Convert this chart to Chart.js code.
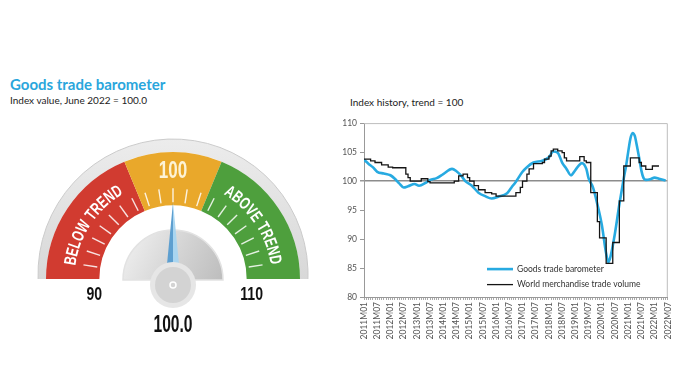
<!DOCTYPE html>
<html><head><meta charset="utf-8">
<script src="https://cdn.jsdelivr.net/npm/chart.js@4.4.1/dist/chart.umd.min.js"></script>
<style>
body{margin:0;background:#fff;width:700px;height:392px;overflow:hidden;position:relative;font-family:Lato,'Open Sans',sans-serif;}
#t1{position:absolute;left:10px;top:75px;font:bold 15px Lato,'Open Sans',sans-serif;color:#2aa6dc;white-space:nowrap;}
#t2{position:absolute;left:10px;top:94px;font:10px Lato,'Open Sans',sans-serif;color:#222;white-space:nowrap;}
#t3{position:absolute;left:350px;top:96px;font:10px Lato,'Open Sans',sans-serif;color:#222;white-space:nowrap;}
#g{position:absolute;left:0;top:110px;}
#c{position:absolute;left:330px;top:115px;}
</style></head><body>
<div id="t1">Goods trade barometer</div>
<div id="t2">Index value, June 2022 = 100.0</div>
<div id="t3">Index history, trend = 100</div>
<canvas id="g" width="340" height="240"></canvas>
<canvas id="c" width="350" height="240"></canvas>
<script>
// ---------- data ----------
const gaugeValue = 100.0;
const gaugeMin = 90, gaugeMax = 110;
const zoneLabels = ['BELOW TREND', '', 'ABOVE TREND'];
const zoneBounds = [90, 97.5, 102.5, 110];
const zoneColors = ['#d13b30', '#e9a82b', '#4e9f3d'];

const tickLabels = ['2011M01','2011M07','2012M01','2012M07','2013M01','2013M07','2014M01','2014M07',
  '2015M01','2015M07','2016M01','2016M07','2017M01','2017M07','2018M01','2018M07','2019M01','2019M07',
  '2020M01','2020M07','2021M01','2021M07','2022M01','2022M07'];

const baroMonths = ['2011M01','2011M03','2011M05','2011M07','2011M10','2012M01','2012M03','2012M05','2012M07','2012M09',
  '2012M12','2013M02','2013M05','2013M07','2013M10','2014M01','2014M05','2014M07','2014M09','2014M11',
  '2015M02','2015M05','2015M08','2015M11','2016M02','2016M06','2016M08','2016M10','2017M01','2017M03',
  '2017M06','2017M10','2018M01','2018M03','2018M05','2018M07','2018M09','2018M11','2019M01','2019M04',
  '2019M06','2019M07','2019M09','2019M11','2020M01','2020M03','2020M04','2020M05','2020M07','2020M09',
  '2020M11','2020M12','2021M01','2021M02','2021M03','2021M04','2021M05','2021M06','2021M07','2021M08',
  '2021M09','2021M11','2022M01','2022M03','2022M06'];
const baroValues = [103.7,103.0,102.4,101.6,101.3,101.0,100.4,99.6,98.9,99.1,
  99.5,99.2,99.7,100.2,100.5,101.2,102.1,101.7,101.0,100.0,
  99.2,98.0,97.4,97.0,97.3,97.9,98.9,99.9,101.6,102.4,
  103.2,103.5,104.1,105.1,104.9,103.2,102.1,101.0,101.9,103.1,
  102.1,100.5,98.9,96.0,92.5,87.5,86.0,87.0,91.0,96.0,
  100.5,102.5,105.0,107.3,108.3,107.8,106.0,104.0,101.8,100.5,
  100.2,100.3,100.6,100.4,100.1];

const tradeMonths = ['2011M01','2011M04','2011M06','2011M09','2011M12','2012M02','2012M08','2012M09','2012M10','2013M03',
  '2013M06','2013M07','2014M06','2014M08','2014M10','2014M12','2015M01','2015M03','2015M05','2015M08',
  '2015M11','2016M01','2016M10','2016M12','2017M01','2017M03','2017M04','2017M06','2017M10','2017M11',
  '2018M01','2018M02','2018M03','2018M05','2018M07','2018M08','2018M09','2019M03','2019M05','2019M06',
  '2019M08','2019M11','2019M12','2020M03','2020M06','2020M09','2020M11','2021M02','2021M06','2021M07',
  '2021M09','2021M12','2022M03'];
const tradeValues = [103.8,103.5,103.2,102.8,102.4,102.3,101.2,100.6,100.0,100.4,
  99.9,99.7,100.0,100.9,101.2,100.6,100.0,99.2,98.5,98.0,
  97.8,97.4,98.0,98.9,100.0,101.2,102.1,103.0,103.2,103.8,
  104.3,105.2,105.5,105.2,104.9,104.0,103.5,104.2,103.5,103.2,
  98.0,93.0,90.2,85.8,89.4,96.6,102.6,104.0,103.2,102.6,
  102.0,102.6,102.6];

function monthIndex(s){ return (parseInt(s.slice(0,4),10)-2011)*12 + parseInt(s.slice(5),10) - 1; }

// ---------- gauge ----------
const BOLDF = "'Liberation Sans',Arial,sans-serif";
function valAngle(v){ return Math.PI + (v - gaugeMin) / (gaugeMax - gaugeMin) * Math.PI; }
function narrowText(ctx, txt, x, y, sx){
  ctx.save(); ctx.translate(x, y); ctx.scale(sx, 1); ctx.fillText(txt, 0, 0); ctx.restore();
}

const gaugePlugin = {
  id: 'gaugeDeco',
  beforeDatasetsDraw(chart){
    const a = chart.getDatasetMeta(0).data[0];
    const ctx = chart.ctx, cx = a.x, cy = a.y, R = a.outerRadius;
    ctx.save();
    const oc = cy - 5, oR = R + 8;
    const grd = ctx.createLinearGradient(cx, oc - oR, cx, cy);
    grd.addColorStop(0, '#ececec'); grd.addColorStop(1, '#d8d8d8');
    ctx.beginPath();
    const s = Math.asin(5 / oR);
    ctx.arc(cx, oc, oR, Math.PI - s, 2*Math.PI + s);
    ctx.lineTo(cx + R, cy);
    ctx.arc(cx, cy, R, 2*Math.PI, Math.PI, true);
    ctx.closePath();
    ctx.fillStyle = grd; ctx.fill();
    ctx.beginPath(); ctx.arc(cx, oc, oR, Math.PI - s, 2*Math.PI + s);
    ctx.strokeStyle = '#cbcbcb'; ctx.lineWidth = 1; ctx.stroke();
    ctx.restore();
  },
  afterDatasetsDraw(chart){
    const a = chart.getDatasetMeta(0).data[0];
    const ctx = chart.ctx, cx = a.x, cy = a.y, R = a.outerRadius, r = a.innerRadius;
    ctx.save();
    // tick marks
    ctx.strokeStyle = 'rgba(255,255,255,0.85)'; ctx.lineWidth = 1.4;
    for (let v = gaugeMin + 1; v < gaugeMax; v++) {
      const t = valAngle(v);
      ctx.beginPath();
      ctx.moveTo(cx + Math.cos(t)*(r+3), cy + Math.sin(t)*(r+3));
      ctx.lineTo(cx + Math.cos(t)*(r+17), cy + Math.sin(t)*(r+17));
      ctx.stroke();
    }
    // zone labels along arc
    ctx.fillStyle = '#ffffff';
    ctx.font = 'bold 17px ' + BOLDF;
    ctx.textAlign = 'center'; ctx.textBaseline = 'middle';
    const sx = 0.7, gap = 0.6;
    const tr = (r + R) / 2 + 4;
    zoneLabels.forEach((txt, i) => {
      if (!txt) return;
      const mid = valAngle((zoneBounds[i] + zoneBounds[i+1]) / 2);
      const total = ctx.measureText(txt).width * sx + (txt.length - 1) * gap;
      let ang = mid - total / 2 / tr;
      for (const ch of txt) {
        const w = ctx.measureText(ch).width * sx;
        const ca = ang + (w/2) / tr;
        ctx.save();
        ctx.translate(cx + Math.cos(ca)*tr, cy + Math.sin(ca)*tr);
        ctx.rotate(ca + Math.PI/2);
        ctx.scale(sx, 1);
        ctx.fillText(ch, 0, 1);
        ctx.restore();
        ang += (w + gap) / tr;
      }
    });
    // center zone number
    ctx.fillStyle = '#fdf3d6';
    ctx.font = 'bold 23px ' + BOLDF;
    narrowText(ctx, String((gaugeMin + gaugeMax) / 2), cx, cy - (R - 20), 0.74);
    // inner dial
    const dR = 50;
    const dg = ctx.createLinearGradient(cx - dR, cy - dR, cx + dR, cy);
    dg.addColorStop(0, '#f3f3f3'); dg.addColorStop(0.55, '#d4d4d4'); dg.addColorStop(1, '#bdbdbd');
    ctx.beginPath(); ctx.arc(cx, cy + 1, dR, Math.PI, 2*Math.PI); ctx.closePath();
    ctx.fillStyle = dg; ctx.fill();
    ctx.strokeStyle = '#e2e2e2'; ctx.lineWidth = 1.5; ctx.stroke();
    // needle
    const na = valAngle(gaugeValue), nl = r + 9, bw = 8;
    const hx = cx, hy = cy + 6;
    const tx = hx + Math.cos(na)*nl, ty = hy + Math.sin(na)*nl;
    const px = Math.cos(na + Math.PI/2), py = Math.sin(na + Math.PI/2);
    ctx.beginPath(); ctx.moveTo(tx, ty); ctx.lineTo(hx - px*bw, hy - py*bw); ctx.lineTo(hx, hy); ctx.closePath();
    ctx.fillStyle = '#5d9fd0'; ctx.fill();
    ctx.beginPath(); ctx.moveTo(tx, ty); ctx.lineTo(hx + px*bw, hy + py*bw); ctx.lineTo(hx, hy); ctx.closePath();
    ctx.fillStyle = '#a9d5f0'; ctx.fill();
    // hub
    ctx.beginPath(); ctx.arc(hx, hy, 23, 0, 2*Math.PI);
    ctx.fillStyle = '#e6e6e6'; ctx.fill();
    ctx.beginPath(); ctx.arc(hx, hy, 18, 0, 2*Math.PI);
    ctx.fillStyle = '#d3d3d3'; ctx.fill();
    ctx.beginPath(); ctx.arc(hx, hy, 3, 0, 2*Math.PI);
    ctx.strokeStyle = '#ffffff'; ctx.lineWidth = 1.5; ctx.stroke();
    // end labels
    ctx.fillStyle = '#111';
    ctx.font = 'bold 19px ' + BOLDF;
    narrowText(ctx, String(gaugeMin), cx + Math.cos(valAngle(gaugeMin))*(r+5), cy + 16, 0.74);
    narrowText(ctx, String(gaugeMax), cx + Math.cos(valAngle(gaugeMax))*(r+5), cy + 16, 0.74);
    ctx.font = 'bold 23px ' + BOLDF;
    narrowText(ctx, gaugeValue.toFixed(1), cx, cy + 47, 0.68);
    ctx.restore();
  }
};

new Chart(document.getElementById('g'), {
  type: 'doughnut',
  data: {
    labels: zoneLabels,
    datasets: [{
      data: zoneBounds.slice(1).map((b, i) => b - zoneBounds[i]),
      backgroundColor: zoneColors,
      borderWidth: 0
    }]
  },
  options: {
    responsive: false, animation: false, devicePixelRatio: 1,
    rotation: -90, circumference: 180, cutout: '58%',
    layout: { padding: { left: 46, right: 40, top: 42, bottom: 71 } },
    plugins: { legend: { display: false }, tooltip: { enabled: false } }
  },
  plugins: [gaugePlugin]
});

// ---------- line chart ----------
const frameLegend = {
  id: 'frameLegend',
  beforeDatasetsDraw(chart){
    const { ctx, chartArea: a } = chart;
    ctx.save();
    ctx.strokeStyle = '#bdbdbd'; ctx.lineWidth = 1;
    ctx.beginPath();
    ctx.moveTo(a.left, a.top + 0.5); ctx.lineTo(a.right - 0.5, a.top + 0.5); ctx.lineTo(a.right - 0.5, a.bottom);
    ctx.stroke();
    ctx.restore();
  },
  afterDatasetsDraw(chart){
    const { ctx, chartArea: a } = chart;
    ctx.save();
    ctx.font = '8.5px Lato, "Open Sans", sans-serif';
    ctx.textBaseline = 'middle'; ctx.textAlign = 'left'; ctx.fillStyle = '#333';
    chart.data.datasets.forEach((ds, i) => {
      const y = a.top + 146 + i * 15.5;
      const x = a.left + 123;
      ctx.strokeStyle = ds.borderColor; ctx.lineWidth = ds.borderWidth;
      ctx.beginPath(); ctx.moveTo(x, y); ctx.lineTo(x + 26, y); ctx.stroke();
      ctx.fillText(ds.label, x + 30, y);
    });
    ctx.restore();
  }
};

const axisFont = { family: 'Lato, "Open Sans", sans-serif', size: 8.5 };
new Chart(document.getElementById('c'), {
  type: 'line',
  data: {
    datasets: [
      {
        label: 'Goods trade barometer',
        data: baroMonths.map((m, i) => ({ x: monthIndex(m), y: baroValues[i] })),
        borderColor: '#27aae1', borderWidth: 2.6, pointRadius: 0,
        cubicInterpolationMode: 'monotone', order: 1
      },
      {
        label: 'World merchandise trade volume',
        data: tradeMonths.map((m, i) => ({ x: monthIndex(m), y: tradeValues[i] })),
        borderColor: '#151515', borderWidth: 1.3, pointRadius: 0,
        stepped: true, order: 0
      }
    ]
  },
  options: {
    responsive: false, animation: false, devicePixelRatio: 1,
    layout: { padding: { top: 7, right: 8, left: 0, bottom: 0 } },
    scales: {
      x: {
        type: 'linear', min: 0, max: (tickLabels.length - 1) * 6,
        afterFit(s){ s.height = 58; },
        ticks: {
          stepSize: 1, autoSkip: false, maxTicksLimit: 500, maxRotation: 90, minRotation: 90,
          font: axisFont, color: '#555', padding: 2,
          callback(v){ return v % 6 === 0 ? tickLabels[v / 6] : ''; }
        },
        grid: { drawOnChartArea: false, tickLength: 3, color: '#aaa' },
        border: { color: '#999' }
      },
      y: {
        min: 80, max: 110,
        afterFit(s){ s.width = 34; },
        ticks: { stepSize: 5, font: axisFont, color: '#555', padding: 3 },
        grid: {
          color: c => (c.tick && c.tick.value === 100) ? '#8c8c8c' : 'rgba(0,0,0,0)',
          lineWidth: c => (c.tick && c.tick.value === 100) ? 1.5 : 1,
          tickColor: '#999', tickLength: 4
        },
        border: { color: '#999' }
      }
    },
    plugins: { legend: { display: false }, tooltip: { enabled: false } }
  },
  plugins: [frameLegend]
});
</script>
</body></html>
